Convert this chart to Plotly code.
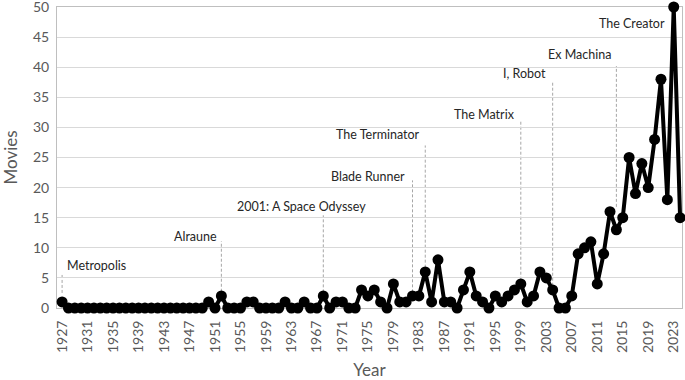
import plotly.graph_objects as go

years = list(range(1927, 2025))
movies = [1] + [0] * 22 + [
    1, 0, 2, 0, 0, 0, 1, 1, 0, 0,      # 1950-1959
    0, 0, 1, 0, 0, 1, 0, 0, 2, 0,      # 1960-1969
    1, 1, 0, 0, 3, 2, 3, 1, 0, 4,      # 1970-1979
    1, 1, 2, 2, 6, 1, 8, 1, 1, 0,      # 1980-1989
    3, 6, 2, 1, 0, 2, 1, 2, 3, 4,      # 1990-1999
    1, 2, 6, 5, 3, 0, 0, 2, 9, 10,     # 2000-2009
    11, 4, 9, 16, 13, 15, 25, 19, 24, 20,  # 2010-2019
    28, 38, 18, 50, 15                 # 2020-2024
]

tick_years = list(range(1927, 2025, 4))
y_ticks = list(range(0, 55, 5))

# milestone films: label, year of dashed line, label right end (year), label y, line top y
films = ["Metropolis", "Alraune", "2001: A Space Odyssey", "Blade Runner",
         "The Terminator", "The Matrix", "I, Robot", "Ex Machina", "The Creator"]
film_years = [1927, 1952, 1968, 1982, 1984, 1999, 2004, 2014, 2023]
label_x = [1927.5, 1951.65, 1975.0, 1981.2, 1983.5, 1998.4, 2003.3, 2013.45, 2021.9]
label_y = [7.1, 11.9, 16.9, 21.9, 28.8, 32.1, 38.9, 42.1, 47.3]
line_top = [5.8, 11.1, 15.4, 21.2, 27.0, 31.0, 37.7, 40.2, None]
line_bottom = [2.5, 2.7, 2.6, 2.6, 6.7, 4.7, 3.7, 16.8, None]

fig = go.Figure()
fig.add_trace(go.Scatter(
    x=years, y=movies, mode="lines+markers",
    line=dict(color="black", width=4),
    marker=dict(color="black", size=11),
    cliponaxis=False, showlegend=False,
))

for i, name in enumerate(films):
    if line_top[i] is not None:
        fig.add_shape(type="line", xref="x", yref="y",
                      x0=film_years[i], x1=film_years[i],
                      y0=line_bottom[i], y1=line_top[i],
                      line=dict(color="#a6a6a6", width=1, dash="3px,2px"),
                      layer="below")
    fig.add_annotation(x=label_x[i], y=label_y[i], text=name, showarrow=False,
                       xanchor="left" if i == 0 else "right", yanchor="middle",
                       font=dict(size=12.5, color="#262626", family="Lato"))

fig.update_layout(
    width=685, height=380,
    margin=dict(l=57, r=3, t=7, b=72, autoexpand=False),
    paper_bgcolor="white", plot_bgcolor="white",
    font=dict(family="Lato", color="#595959"),
    xaxis=dict(range=[1926.2, 2024.3], tickmode="array", tickvals=tick_years,
               ticktext=[str(y) for y in tick_years], tickangle=-90,
               tickfont=dict(size=14, color="#595959"), showgrid=False,
               showline=True, linecolor="#bfbfbf", linewidth=1, mirror=True,
               ticks="", zeroline=False, automargin=False, layer="below traces",
               ticklabeloverflow="allow", ticklabelstandoff=6,
               title=dict(text="Year", font=dict(size=17, color="#595959"), standoff=14)),
    yaxis=dict(range=[0, 50], tickmode="array", tickvals=y_ticks,
               ticktext=[str(v) for v in y_ticks],
               tickfont=dict(size=14, color="#595959"),
               showgrid=True, gridcolor="#d9d9d9", gridwidth=1,
               showline=True, linecolor="#bfbfbf", linewidth=1, mirror=True,
               ticks="", zeroline=False, automargin=False, layer="below traces",
               ticklabeloverflow="allow", ticklabelstandoff=4,
               title=dict(text="Movies", font=dict(size=17, color="#595959"), standoff=14)),
)

fig.write_html("out.html", config={"displayModeBar": False},
               post_script="document.body.style.margin='0';document.body.style.overflow='hidden';")
